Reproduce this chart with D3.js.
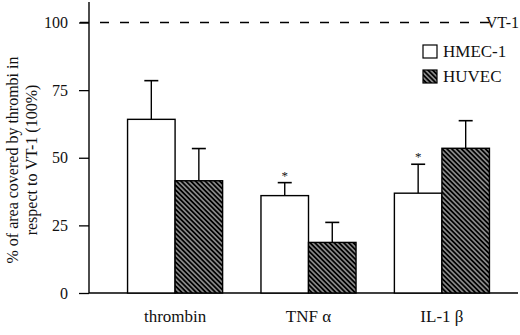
<!DOCTYPE html>
<html>
<head>
<meta charset="utf-8">
<script src="https://cdn.jsdelivr.net/npm/d3@7"></script>
<style>
  body { margin: 0; background: #fff; }
  svg { display: block; font-family: "Liberation Serif", "DejaVu Serif", serif; }
</style>
</head>
<body>
<div id="chart-container"></div>
<script>
const categories = ["thrombin", "TNF α", "IL-1 β"];
const seriesNames = ["HMEC-1", "HUVEC"];
const hmecValues = [64.2, 36.0, 36.9];
const hmecErrors = [14.3, 4.8, 10.7];
const huvecValues = [41.5, 18.7, 53.5];
const huvecErrors = [11.9, 7.4, 10.2];
const hmecSignificant = [false, true, true];
const yTicks = [0, 25, 50, 75, 100];
const refValue = 100;
const refLabel = "VT-1";

const svgWidth = 520;
const svgHeight = 335;

const svg = d3.select("#chart-container")
    .append("svg")
    .attr("width", svgWidth)
    .attr("height", svgHeight);

const defs = svg.append("defs");
const pattern = defs.append("pattern")
    .attr("id", "hatch")
    .attr("patternUnits", "userSpaceOnUse")
    .attr("width", 3.4)
    .attr("height", 3.4)
    .attr("patternTransform", "rotate(-45)");
pattern.append("rect")
    .attr("width", 3.4)
    .attr("height", 3.4)
    .attr("fill", "#000");
pattern.append("line")
    .attr("x1", 1.7).attr("y1", 0)
    .attr("x2", 1.7).attr("y2", 3.4)
    .attr("stroke", "#fff")
    .attr("stroke-width", 0.9);

const scaleX = d3.scaleBand()
    .domain(categories)
    .range([89, 528])
    .paddingInner(0.2875)
    .paddingOuter(0.289);

const scaleSeries = d3.scaleBand()
    .domain(seriesNames)
    .range([0, scaleX.bandwidth()]);

const scaleY = d3.scaleLinear()
    .domain([0, 100])
    .range([293, 22.5]);

const rows = [];
categories.forEach(function(c, i) {
    rows.push({ cat: c, series: "HMEC-1", value: hmecValues[i], err: hmecErrors[i], star: hmecSignificant[i] });
    rows.push({ cat: c, series: "HUVEC", value: huvecValues[i], err: huvecErrors[i], star: false });
});

// y axis
const yAxis = svg.append("g")
    .attr("transform", "translate(89,0)")
    .call(d3.axisLeft(scaleY).tickValues(yTicks).tickSize(10).tickPadding(11));
yAxis.select(".domain").remove();
yAxis.selectAll("line").attr("stroke", "#000").attr("stroke-width", 1.3);
yAxis.selectAll("text")
    .attr("font-family", "Liberation Serif, serif")
    .attr("font-size", 16)
    .attr("fill", "#111");

svg.append("line")
    .attr("x1", 89).attr("x2", 89)
    .attr("y1", 2).attr("y2", scaleY(0))
    .attr("stroke", "#000").attr("stroke-width", 1.4);

svg.append("line")
    .attr("x1", 89).attr("x2", 518)
    .attr("y1", scaleY(0)).attr("y2", scaleY(0))
    .attr("stroke", "#000").attr("stroke-width", 1.4);

// reference line
svg.append("line")
    .attr("x1", 80).attr("x2", 490)
    .attr("y1", scaleY(refValue)).attr("y2", scaleY(refValue))
    .attr("stroke", "#000")
    .attr("stroke-width", 1.3)
    .attr("stroke-dasharray", "9,11");

svg.append("text")
    .attr("x", 519)
    .attr("y", scaleY(refValue) + 5)
    .attr("text-anchor", "end")
    .attr("font-size", 16)
    .attr("fill", "#111")
    .text(refLabel);

// error bars
const errG = svg.append("g");
rows.forEach(function(d) {
    const cx = scaleX(d.cat) + scaleSeries(d.series) + scaleSeries.bandwidth() / 2;
    errG.append("line")
        .attr("x1", cx).attr("x2", cx)
        .attr("y1", scaleY(d.value)).attr("y2", scaleY(d.value + d.err))
        .attr("stroke", "#000").attr("stroke-width", 1.4);
    errG.append("line")
        .attr("x1", cx - 7).attr("x2", cx + 7)
        .attr("y1", scaleY(d.value + d.err)).attr("y2", scaleY(d.value + d.err))
        .attr("stroke", "#000").attr("stroke-width", 1.6);
    if (d.star) {
        errG.append("text")
            .attr("x", cx)
            .attr("y", scaleY(d.value + d.err) - 3)
            .attr("text-anchor", "middle")
            .attr("font-size", 13)
            .attr("fill", "#111")
            .text("*");
    }
});

// bars
svg.selectAll(".bar")
    .data(rows)
    .enter()
    .append("rect")
    .attr("class", "bar")
    .attr("x", d => scaleX(d.cat) + scaleSeries(d.series))
    .attr("y", d => scaleY(d.value))
    .attr("width", scaleSeries.bandwidth())
    .attr("height", d => scaleY(0) - scaleY(d.value))
    .attr("fill", d => d.series === "HMEC-1" ? "#fff" : "url(#hatch)")
    .attr("stroke", "#000")
    .attr("stroke-width", 1.4);

// category labels
svg.selectAll(".cat-label")
    .data(categories)
    .enter()
    .append("text")
    .attr("class", "cat-label")
    .attr("x", d => scaleX(d) + scaleX.bandwidth() / 2)
    .attr("y", 322)
    .attr("text-anchor", "middle")
    .attr("font-size", 17)
    .attr("fill", "#111")
    .text(d => d);

// y axis title
const yTitle = svg.append("text")
    .attr("transform", "translate(0,160) rotate(-90)")
    .attr("text-anchor", "middle")
    .attr("font-size", 16)
    .attr("fill", "#111");
yTitle.append("tspan").attr("x", 0).attr("y", 18).text("% of area covered by thrombi in");
yTitle.append("tspan").attr("x", 0).attr("y", 37).text("respect to VT-1 (100%)");

// legend
const legend = svg.append("g").attr("transform", "translate(423,45)");
seriesNames.forEach(function(name, i) {
    const g = legend.append("g").attr("transform", `translate(0,${i * 25})`);
    g.append("rect")
        .attr("width", 14).attr("height", 13)
        .attr("fill", i === 0 ? "#fff" : "url(#hatch)")
        .attr("stroke", "#000").attr("stroke-width", 1.2);
    g.append("text")
        .attr("x", 20).attr("y", 12)
        .attr("font-size", 17)
        .attr("fill", "#111")
        .text(name);
});
</script>
</body>
</html>
